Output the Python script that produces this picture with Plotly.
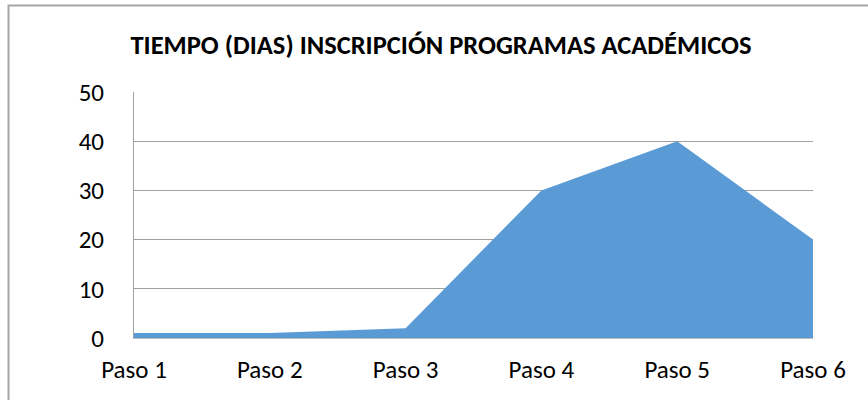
import plotly.graph_objects as go

categories = ["Paso 1", "Paso 2", "Paso 3", "Paso 4", "Paso 5", "Paso 6"]
values = [1, 1, 2, 30, 40, 20]
y_ticks = [0, 10, 20, 30, 40, 50]
title_text = "TIEMPO (DIAS) INSCRIPCIÓN PROGRAMAS ACADÉMICOS"

FONT = "Carlito, Calibri, Lato, 'Open Sans', sans-serif"

fig = go.Figure()
fig.add_trace(go.Scatter(
    x=categories, y=values, mode="lines", fill="tozeroy",
    line=dict(color="#5B9BD5", width=0), fillcolor="#5B9BD5",
    hoverinfo="x+y", showlegend=False,
))

fig.update_layout(
    width=868, height=400,
    margin=dict(l=134, r=55, t=92, b=62),
    paper_bgcolor="white", plot_bgcolor="white",
    title=dict(text="<b>" + title_text + "</b>", x=441 / 868, xanchor="center",
               y=1 - 45 / 400, yanchor="middle",
               font=dict(family=FONT, size=26.5, color="black")),
    font=dict(family=FONT, size=25, color="black"),
    xaxis=dict(type="category", range=[0, 5], showgrid=False, zeroline=False,
               showline=True, linecolor="#BFBFBF", linewidth=1,
               ticks="", ticklabelstandoff=9, tickfont=dict(size=25)),
    yaxis=dict(range=[0, 50], tickvals=y_ticks, showgrid=True,
               gridcolor="#A0A0A0", gridwidth=1, zeroline=False,
               showline=True, linecolor="#A0A0A0", linewidth=1,
               ticks="", ticklabelstandoff=24, tickfont=dict(size=25)),
    shapes=[
        dict(type="rect", xref="paper", yref="paper",
             x0=(8.5 - 134) / 679, x1=(900 - 134) / 679,
             y0=(338 - 420) / 246, y1=(338 - 5.5) / 246,
             line=dict(color="#A6A6A6", width=2), layer="below"),
    ],
)

fig.write_html("out.html", config={"displayModeBar": False},
               post_script="document.body.style.margin='0';")
